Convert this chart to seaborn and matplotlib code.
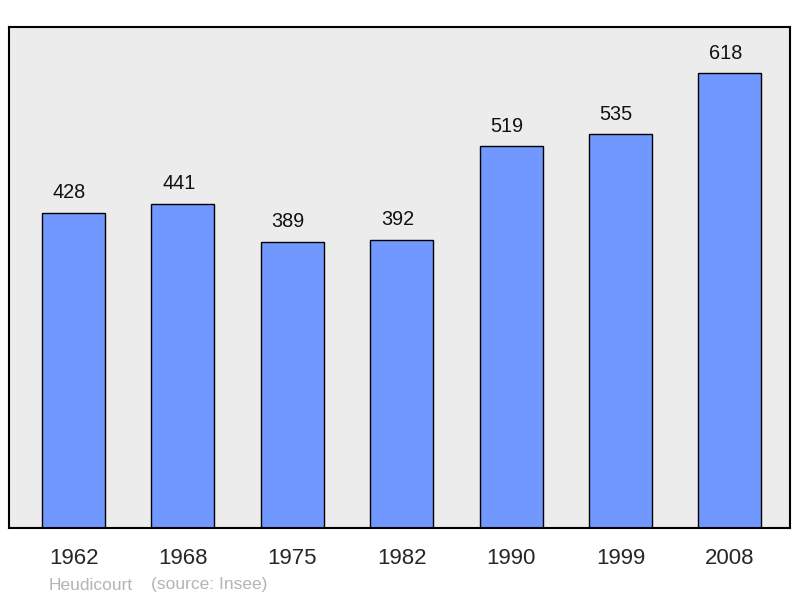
import pandas as pd
import seaborn as sns
import matplotlib.pyplot as plt

# Population data
years = ['1962', '1968', '1975', '1982', '1990', '1999', '2008']
population = [428, 441, 389, 392, 519, 535, 618]
commune = 'Heudicourt'
source = '(source: Insee)'

df = pd.DataFrame({'year': years, 'population': population})

sns.set_style('white')
plt.rcParams['font.family'] = ['Liberation Sans', 'DejaVu Sans']

fig = plt.figure(figsize=(8, 5.98), dpi=100)
ax = fig.add_axes([9 / 800, 1 - 528 / 598, 781 / 800, 501 / 598])
ax.set_facecolor('#ececec')

sns.barplot(data=df, x='year', y='population', color='#7098ff', saturation=1,
            width=0.576, edgecolor='black', linewidth=1.0, ax=ax)

# value labels above bars
for i, v in enumerate(population):
    ax.annotate(str(v), (i, v), xytext=(-3, 14.5), textcoords='offset points',
                ha='center', va='center', fontsize=14.3, color='#111111')

ax.set_xlim(-0.59, 6.55)
ax.set_ylim(0, 681)
ax.set_xlabel('')
ax.set_ylabel('')
ax.set_yticks([])
ax.tick_params(axis='x', length=0, pad=14.5, labelsize=16)
for s in ax.spines.values():
    s.set_color('black')
    s.set_linewidth(1.5)

fig.text(49 / 800, 1 - 585 / 598, commune, fontsize=12.5,
         color='#b4b4b4', ha='left', va='center')
fig.text(151 / 800, 1 - 585 / 598, source, fontsize=12.5,
         color='#b4b4b4', ha='left', va='center')

fig.savefig('out.png', dpi=100)
